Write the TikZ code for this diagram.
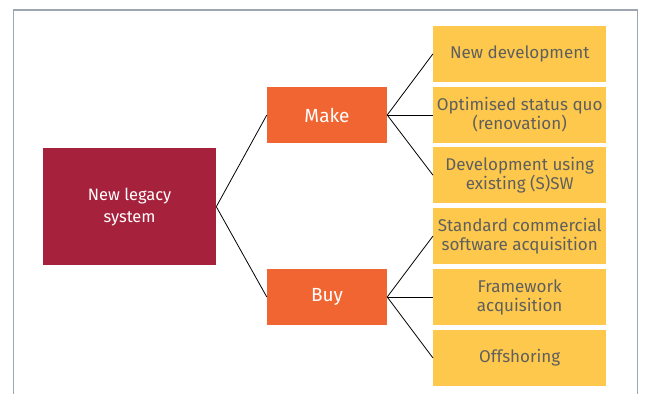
\documentclass[tikz,border=0pt]{standalone}
\usepackage{fontspec}
\setmainfont{Fira Sans}
\begin{document}
\begin{tikzpicture}[x=1pt,y=-1pt,
  rootbox/.style={fill=legacyred, text=white, minimum width=173pt, minimum height=117pt, inner sep=0pt, align=center, font=\fontsize{16.5}{22}\selectfont},
  choicebox/.style={fill=choiceorange, text=white, minimum width=120pt, minimum height=55.5pt, inner sep=0pt, align=center, font=\fontsize{19}{22}\selectfont},
  optionbox/.style={fill=optionyellow, text=optiontext, minimum width=173pt, minimum height=55.5pt, inner sep=0pt, align=center, font=\fontsize{17}{19}\selectfont},
  link/.style={draw=black, line width=0.8pt},
  frameline/.style={draw=framegrey, line width=1.1pt}]
\definecolor{legacyred}{HTML}{A6213C}
\definecolor{choiceorange}{HTML}{F06531}
\definecolor{optionyellow}{HTML}{FDC84B}
\definecolor{optiontext}{HTML}{5F5F5F}
\definecolor{framegrey}{HTML}{9EA7B1}
\useasboundingbox (0,0) rectangle (645,394);
% open frame around the chart
\draw[frameline] (13.6,394) -- (13.6,10) -- (637.8,10) -- (637.8,394);
% nodes
\node[rootbox] (root) at (129.6,206.7) {New legacy\\system};
\node[choicebox] (make) at (327,115) {Make};
\node[choicebox] (buy) at (327,297) {Buy};
\node[optionbox] (o1) at (519.7,53.8) {New development};
\node[optionbox] (o2) at (519.7,115) {Optimised status quo\\(renovation)};
\node[optionbox] (o3) at (519.7,175.2) {Development using\\existing (S)SW};
\node[optionbox] (o4) at (519.7,236) {Standard commercial\\software acquisition};
\node[optionbox] (o5) at (519.7,297) {Framework\\acquisition};
\node[optionbox] (o6) at (519.7,358) {Offshoring};
% connectors
\draw[link] (root.east) -- (make.west);
\draw[link] (root.east) -- (buy.west);
\foreach \o in {o1,o2,o3} \draw[link] (make.east) -- (\o.west);
\foreach \o in {o4,o5,o6} \draw[link] (buy.east) -- (\o.west);
\end{tikzpicture}
\end{document}
